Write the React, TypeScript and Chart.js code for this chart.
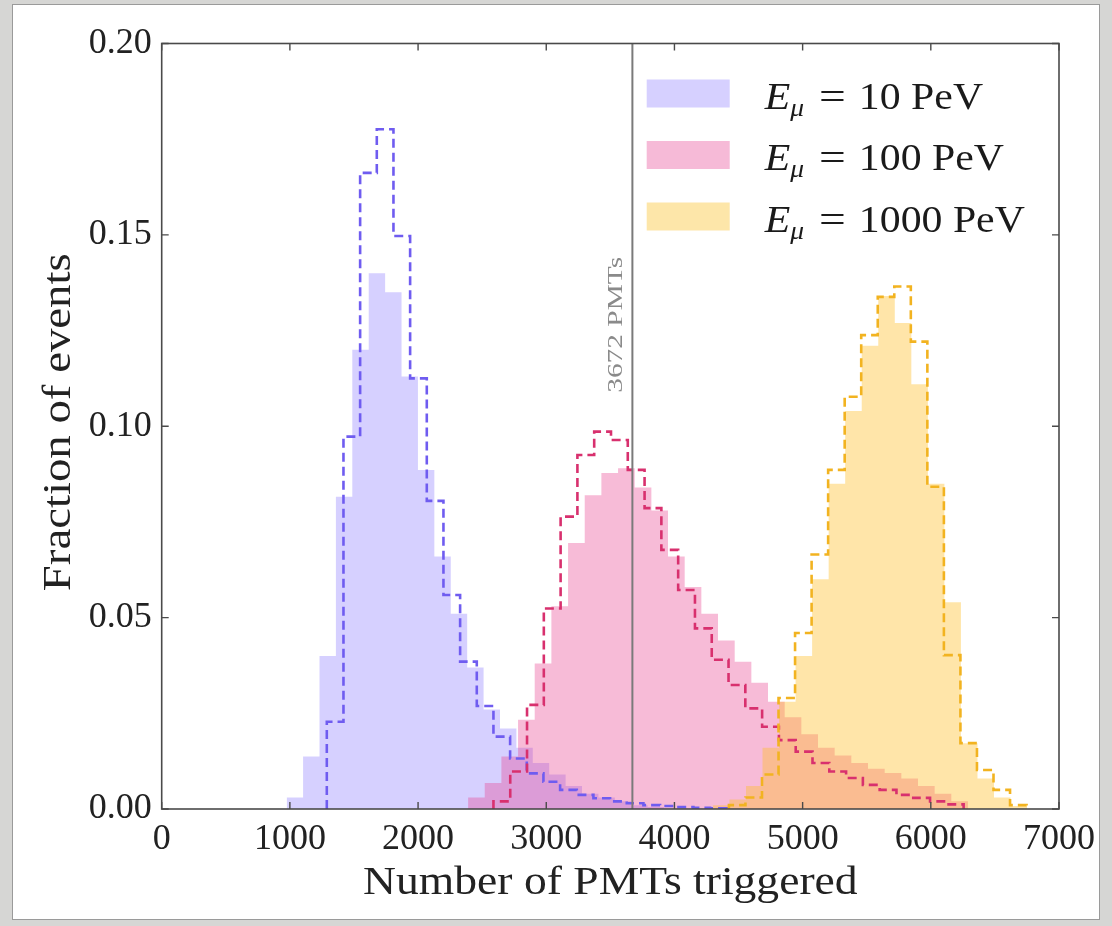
import React, { useEffect, useRef } from "react";
import { Chart, registerables } from "chart.js";

Chart.register(...registerables);

// ---- data ----
const xTickValues = [0, 1000, 2000, 3000, 4000, 5000, 6000, 7000];
const yTickValues = [0, 0.05, 0.1, 0.15, 0.2];
const cutValue = 3672;
const cutLabel = "3672 PMTs";
const xTitle = "Number of PMTs triggered";
const yTitle = "Fraction of events";
const legendEnergies = ["10", "100", "1000"];

// 10 PeV
const blueFillStart = 975;
const blueFillWidth = 128;
const blueFillValues = [
  0.003, 0.0137, 0.04, 0.0816, 0.12, 0.14, 0.135, 0.113, 0.0886, 0.066, 0.051,
  0.037, 0.026, 0.021, 0.016, 0.012, 0.009, 0.006, 0.004, 0.003, 0.002, 0.001,
  0.0005,
];
const blueLineStart = 1288;
const blueLineWidth = 130;
const blueLineValues = [
  0.0228, 0.0973, 0.1662, 0.1776, 0.1497, 0.1125, 0.0805, 0.0559, 0.0385,
  0.0269, 0.0189, 0.0132, 0.0093, 0.0071, 0.005, 0.0037, 0.0028, 0.002, 0.0015,
  0.001, 0.0008, 0.0005, 0.0003, 0.0002,
];

// 100 PeV
const pinkFillStart = 2390;
const pinkFillWidth = 130;
const pinkFillValues = [
  0.003, 0.0068, 0.0137, 0.0233, 0.038, 0.053, 0.0695, 0.082, 0.0878, 0.089,
  0.084, 0.078, 0.066, 0.058, 0.051, 0.044, 0.0385, 0.033, 0.028, 0.024,
  0.0195, 0.016, 0.014, 0.012, 0.0105, 0.0094, 0.008, 0.006, 0.004, 0.002,
];
const pinkLineStart = 2588;
const pinkLineWidth = 131;
const pinkLineValues = [
  0.002, 0.0098, 0.0272, 0.0524, 0.0764, 0.0925, 0.0986, 0.0964, 0.0886,
  0.0786, 0.0677, 0.0572, 0.0472, 0.039, 0.0324, 0.0263, 0.0215, 0.018, 0.015,
  0.012, 0.0098, 0.0081, 0.0063, 0.005, 0.0037, 0.0029, 0.002, 0.0012,
];

// 1000 PeV
const yellowFillStart = 4300;
const yellowFillWidth = 129;
const yellowFillValues = [
  0.001, 0.0025, 0.006, 0.016, 0.028, 0.04, 0.06, 0.085, 0.104, 0.121, 0.134,
  0.127, 0.111, 0.085, 0.054, 0.0172, 0.008, 0.003, 0.0008,
];
const yellowLineStart = 4425;
const yellowLineWidth = 129;
const yellowLineValues = [
  0.001, 0.003, 0.009, 0.029, 0.046, 0.0665, 0.0886, 0.1077, 0.1238, 0.1338,
  0.1365, 0.1221, 0.0842, 0.0402, 0.0172, 0.0102, 0.005, 0.001,
];

// ---- styles ----
const SERIF = "'Liberation Serif', 'DejaVu Serif', serif";
const TEXT = "#222222";
const blueFill = "rgba(120,100,255,0.30)";
const pinkFill = "rgba(232,60,140,0.35)";
const yellowFill = "rgba(255,190,40,0.40)";
const blueLine = "#6f5cf0";
const pinkLine = "#d8306e";
const yellowLine = "#f2b320";
const legendPatch = ["#d6d0ff", "#f6bad7", "#fde6a9"];

function histPoints(start: number, width: number, values: number[]) {
  const pts: { x: number; y: number }[] = [{ x: start, y: 0 }];
  values.forEach((v, i) => pts.push({ x: start + i * width, y: v }));
  pts.push({ x: start + values.length * width, y: 0 });
  return pts;
}

function stretchedText(ctx: any, text: string, x: number, y: number, sx: number, align: string) {
  ctx.save();
  ctx.translate(x, y);
  ctx.scale(sx, 1);
  ctx.textAlign = align;
  ctx.fillText(text, 0, 0);
  ctx.restore();
}

const framePlugin = {
  id: "framePlugin",
  afterDatasetsDraw(chart: any) {
    const { ctx, chartArea: a, scales } = chart;
    const xs = scales.x;
    const ys = scales.y;
    ctx.save();
    // cut line
    const cx = xs.getPixelForValue(cutValue);
    ctx.strokeStyle = "#7a7a7a";
    ctx.lineWidth = 2;
    ctx.beginPath();
    ctx.moveTo(cx, a.top);
    ctx.lineTo(cx, a.bottom);
    ctx.stroke();
    ctx.save();
    ctx.translate(cx - 10, ys.getPixelForValue(0.1265));
    ctx.rotate(-Math.PI / 2);
    ctx.fillStyle = "#8a8a8a";
    ctx.font = `21px ${SERIF}`;
    ctx.textBaseline = "alphabetic";
    stretchedText(ctx, cutLabel, 0, 0, 1.4, "center");
    ctx.restore();

    // frame
    ctx.strokeStyle = "#4a4a4a";
    ctx.lineWidth = 1.6;
    ctx.strokeRect(a.left, a.top, a.right - a.left, a.bottom - a.top);
    const tl = 7;
    ctx.lineWidth = 1.4;
    ctx.beginPath();
    xTickValues.forEach((v) => {
      const px = xs.getPixelForValue(v);
      ctx.moveTo(px, a.bottom);
      ctx.lineTo(px, a.bottom - tl);
      ctx.moveTo(px, a.top);
      ctx.lineTo(px, a.top + tl);
    });
    yTickValues.forEach((v) => {
      const py = ys.getPixelForValue(v);
      ctx.moveTo(a.left, py);
      ctx.lineTo(a.left + tl, py);
      ctx.moveTo(a.right, py);
      ctx.lineTo(a.right - tl, py);
    });
    ctx.stroke();

    // axis titles
    ctx.fillStyle = TEXT;
    ctx.font = `40px ${SERIF}`;
    ctx.textBaseline = "alphabetic";
    stretchedText(ctx, xTitle, (a.left + a.right) / 2, 894, 1.14, "center");
    ctx.save();
    ctx.translate(70, (a.top + a.bottom) / 2 - 4);
    ctx.rotate(-Math.PI / 2);
    stretchedText(ctx, yTitle, 0, 0, 1.17, "center");
    ctx.restore();

    // legend
    const lx = a.left + 485;
    const ly0 = a.top + 36;
    const rowH = 61.5;
    legendEnergies.forEach((e, i) => {
      const y = ly0 + i * rowH;
      ctx.fillStyle = legendPatch[i];
      ctx.fillRect(lx, y, 83, 28);
      const base = y + 29;
      let tx = lx + 118;
      ctx.fillStyle = "#1a1a1a";
      ctx.textBaseline = "alphabetic";
      ctx.font = `italic 38px ${SERIF}`;
      stretchedText(ctx, "E", tx, base, 1.1, "left");
      tx += ctx.measureText("E").width * 1.1;
      ctx.font = `italic 25px ${SERIF}`;
      stretchedText(ctx, "\u03bc", tx, base + 7, 1.1, "left");
      tx += ctx.measureText("\u03bc").width * 1.1 + 15;
      ctx.font = `38px ${SERIF}`;
      stretchedText(ctx, "=", tx, base, 1.25, "left");
      tx += ctx.measureText("=").width * 1.25 + 13;
      stretchedText(ctx, e + " PeV", tx, base, 1.1, "left");
    });
    ctx.restore();
  },
};

export default function App() {
  const ref = useRef<HTMLCanvasElement | null>(null);
  useEffect(() => {
    if (!ref.current) return;
    const mk = (label: string, pts: any, opts: any) => ({
      label,
      data: pts,
      stepped: true,
      pointRadius: 0,
      tension: 0,
      ...opts,
    });
    const chart = new Chart(ref.current, {
      type: "line",
      data: {
        datasets: [
          mk("10 PeV fill", histPoints(blueFillStart, blueFillWidth, blueFillValues), {
            fill: "origin", backgroundColor: blueFill, borderWidth: 0, borderColor: "transparent", order: 6,
          }),
          mk("100 PeV fill", histPoints(pinkFillStart, pinkFillWidth, pinkFillValues), {
            fill: "origin", backgroundColor: pinkFill, borderWidth: 0, borderColor: "transparent", order: 5,
          }),
          mk("1000 PeV fill", histPoints(yellowFillStart, yellowFillWidth, yellowFillValues), {
            fill: "origin", backgroundColor: yellowFill, borderWidth: 0, borderColor: "transparent", order: 4,
          }),
          mk("10 PeV", histPoints(blueLineStart, blueLineWidth, blueLineValues), {
            fill: false, borderColor: blueLine, borderWidth: 2.6, borderDash: [9, 5], order: 3,
          }),
          mk("100 PeV", histPoints(pinkLineStart, pinkLineWidth, pinkLineValues), {
            fill: false, borderColor: pinkLine, borderWidth: 2.6, borderDash: [9, 5], order: 2,
          }),
          mk("1000 PeV", histPoints(yellowLineStart, yellowLineWidth, yellowLineValues), {
            fill: false, borderColor: yellowLine, borderWidth: 2.6, borderDash: [9, 5], order: 1,
          }),
        ],
      },
      options: {
        animation: false,
        responsive: false,
        maintainAspectRatio: false,
        layout: { padding: { left: 0, top: 43.5, right: 53, bottom: 0 } },
        plugins: {
          legend: { display: false },
          tooltip: { enabled: false },
        },
        scales: {
          x: {
            type: "linear",
            min: 0,
            max: 7000,
            afterBuildTicks: (s: any) => {
              s.ticks = xTickValues.map((v) => ({ value: v }));
            },
            afterFit: (s: any) => {
              s.height = 926 - 809;
            },
            ticks: {
              callback: (v: any) => String(v),
              font: { family: SERIF, size: 36 },
              color: TEXT,
              padding: 9,
              maxRotation: 0,
              autoSkip: false,
            },
            grid: { display: false, drawTicks: false },
            border: { display: false },
            title: { display: false },
          },
          y: {
            type: "linear",
            min: 0,
            max: 0.2,
            afterBuildTicks: (s: any) => {
              s.ticks = yTickValues.map((v) => ({ value: v }));
            },
            afterFit: (s: any) => {
              s.width = 161.7;
            },
            ticks: {
              callback: (v: any) => Number(v).toFixed(2),
              font: { family: SERIF, size: 36 },
              color: TEXT,
              padding: 10,
              autoSkip: false,
            },
            grid: { display: false, drawTicks: false },
            border: { display: false },
            title: { display: false },
          },
        },
      },
      plugins: [framePlugin],
    } as any);
    return () => chart.destroy();
  }, []);

  return (
    <div style={{ position: "fixed", left: 0, top: 0, width: 1112, height: 926, background: "#d6d6d4" }}>
      <div
        style={{
          position: "absolute",
          left: 12,
          top: 4,
          width: 1086,
          height: 914,
          background: "#ffffff",
          border: "1px solid #9a9a9a",
        }}
      />
      <canvas
        ref={ref}
        width={1112}
        height={926}
        style={{ position: "absolute", left: 0, top: 0, width: 1112, height: 926 }}
      />
    </div>
  );
}
